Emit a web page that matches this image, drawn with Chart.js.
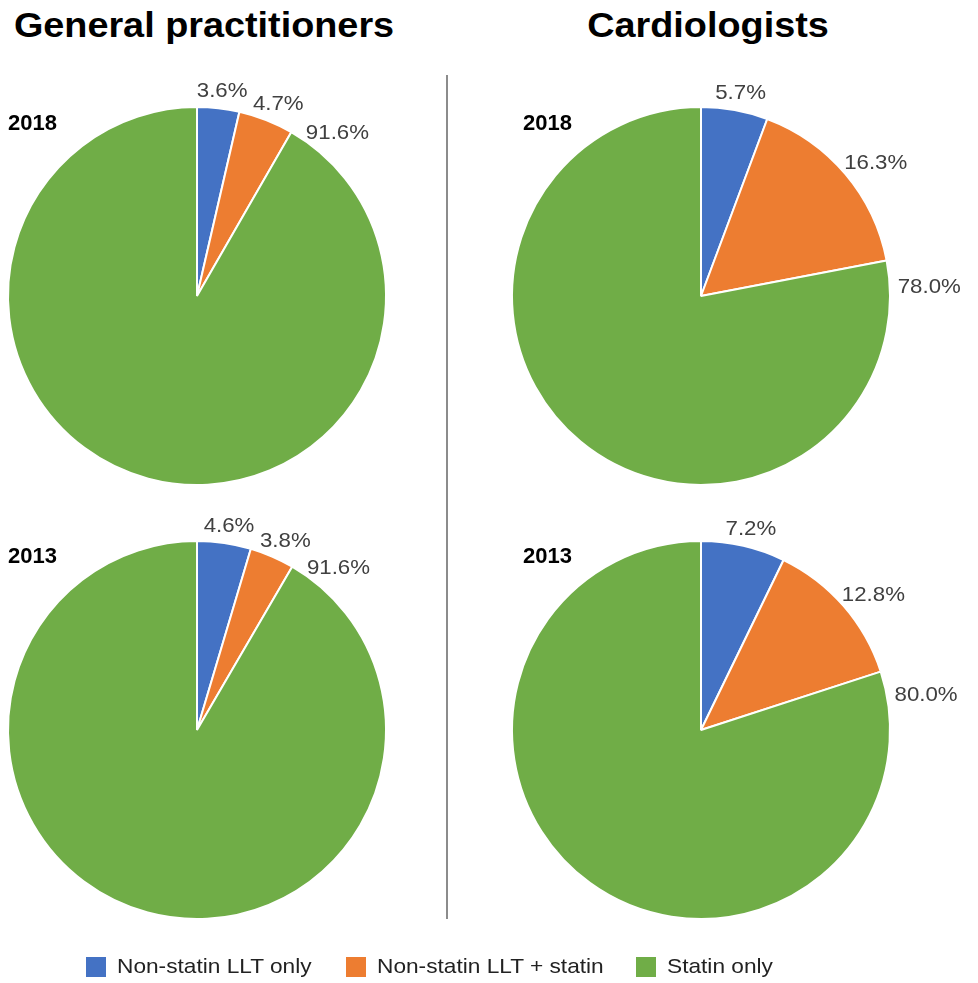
<!DOCTYPE html>
<html>
<head>
<meta charset="utf-8">
<script src="https://cdn.jsdelivr.net/npm/chart.js@4"></script>
<style>
  html, body { margin: 0; padding: 0; background: #fff; }
  body { width: 978px; height: 983px; position: relative; overflow: hidden;
         font-family: "Liberation Sans", Arial, sans-serif; color: #000; }
  .title { position: absolute; top: 7px; font-size: 35px; font-weight: bold; line-height: 1;
           white-space: nowrap; transform: translateX(-50%) scaleX(1.08); }
  .year { position: absolute; font-size: 22px; font-weight: bold; line-height: 1; }
  .divider { position: absolute; left: 446px; top: 75px; width: 2px; height: 844px; background: #8c8c8c; }
  .chart { position: absolute; width: 480px; height: 440px; }
  .legend-box { position: absolute; top: 957px; width: 20px; height: 20px; }
  .legend-text { position: absolute; top: 955px; font-size: 21px; line-height: 1; color: #222;
                 white-space: nowrap; transform-origin: 0 0; transform: scaleX(1.08); }
</style>
</head>
<body>
<div class="title" style="left:204px">General practitioners</div>
<div class="title" style="left:708px">Cardiologists</div>
<div class="divider"></div>

<div class="chart" style="left:0;top:76px"><canvas id="gp2018"></canvas></div>
<div class="chart" style="left:0;top:510px"><canvas id="gp2013"></canvas></div>
<div class="chart" style="left:498px;top:76px"><canvas id="cardio2018"></canvas></div>
<div class="chart" style="left:498px;top:510px"><canvas id="cardio2013"></canvas></div>

<div class="year" style="left:8px;top:112px">2018</div>
<div class="year" style="left:8px;top:545px">2013</div>
<div class="year" style="left:523px;top:112px">2018</div>
<div class="year" style="left:523px;top:545px">2013</div>

<div id="legend"></div>

<script>
// Data
const categories = ['Non-statin LLT only', 'Non-statin LLT + statin', 'Statin only'];
const gp2018 = [3.6, 4.7, 91.6];
const gp2013 = [4.6, 3.8, 91.6];
const cardio2018 = [5.7, 16.3, 78.0];
const cardio2013 = [7.2, 12.8, 80.0];

const colors = ['#4472c4', '#ed7d31', '#70ad47'];
const legendLeft = [86, 346, 636];

// Percent labels outside each slice; the big slice gets its label near its start
const outsideLabels = {
    id: 'outsideLabels',
    afterDatasetsDraw(chart) {
        const ctx = chart.ctx;
        const meta = chart.getDatasetMeta(0);
        const data = chart.data.datasets[0].data;
        ctx.save();
        ctx.font = '21px "Liberation Sans", Arial, sans-serif';
        ctx.fillStyle = '#404040';
        ctx.textAlign = 'center';
        ctx.textBaseline = 'middle';
        meta.data.forEach((arc, i) => {
            const p = arc.getProps(['x', 'y', 'startAngle', 'endAngle', 'outerRadius'], true);
            const a = data[i] > 50 ? p.startAngle + 8 * Math.PI / 180 : (p.startAngle + p.endAngle) / 2;
            const text = data[i].toFixed(1) + '%';
            const w = ctx.measureText(text).width * 1.06;
            const h = 20;
            const r = p.outerRadius + 8;
            const x = p.x + Math.cos(a) * r + Math.cos(a) * w / 2;
            const y = p.y + Math.sin(a) * r + Math.sin(a) * h / 2;
            ctx.save();
            ctx.translate(x, y);
            ctx.scale(1.06, 1);
            ctx.fillText(text, 0, 1);
            ctx.restore();
        });
        ctx.restore();
    }
};

function makePie(id, values, padLeft) {
    new Chart(document.getElementById(id), {
        type: 'pie',
        data: {
            labels: categories,
            datasets: [{
                data: values,
                backgroundColor: colors,
                borderColor: '#ffffff',
                borderWidth: 2
            }]
        },
        options: {
            responsive: true,
            maintainAspectRatio: false,
            animation: false,
            events: [],
            layout: { padding: { left: padLeft, right: 480 - 380 - padLeft, top: 30, bottom: 30 } },
            plugins: {
                legend: { display: false },
                tooltip: { enabled: false }
            }
        },
        plugins: [outsideLabels]
    });
}

makePie('gp2018', gp2018, 7);
makePie('gp2013', gp2013, 7);
makePie('cardio2018', cardio2018, 13);
makePie('cardio2013', cardio2013, 13);

// Legend
const legend = document.getElementById('legend');
categories.forEach((name, i) => {
    const box = document.createElement('div');
    box.className = 'legend-box';
    box.style.left = legendLeft[i] + 'px';
    box.style.background = colors[i];
    legend.appendChild(box);
    const label = document.createElement('div');
    label.className = 'legend-text';
    label.style.left = (legendLeft[i] + 31) + 'px';
    label.textContent = name;
    legend.appendChild(label);
});
</script>
</body>
</html>
